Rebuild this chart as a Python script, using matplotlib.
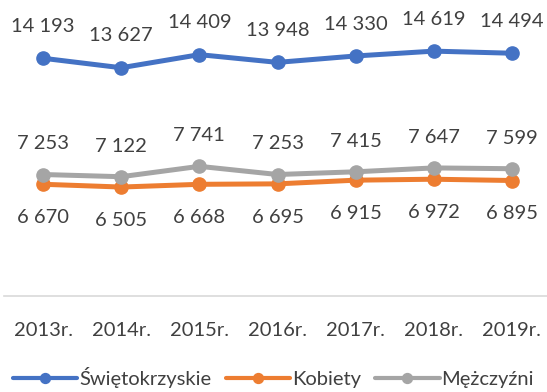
import matplotlib
matplotlib.use("Agg")
import matplotlib.pyplot as plt

years = ["2013r.", "2014r.", "2015r.", "2016r.", "2017r.", "2018r.", "2019r."]
swietokrzyskie = [14193, 13627, 14409, 13948, 14330, 14619, 14494]
kobiety = [6670, 6505, 6668, 6695, 6915, 6972, 6895]
mezczyzni = [7253, 7122, 7741, 7253, 7415, 7647, 7599]

plt.rcParams["font.family"] = ["Lato", "DejaVu Sans"]
text_color = "#404040"

fig = plt.figure(figsize=(5.47, 3.92), dpi=100)
ax = fig.add_axes([4 / 547, 1 - 296 / 392, 547 / 547, 268 / 392])

x = list(range(len(years)))
series = [
    ("Świętokrzyskie", swietokrzyskie, "#4472C4", 23),
    ("Kobiety", kobiety, "#ED7D31", -24),
    ("Mężczyźni", mezczyzni, "#A5A5A5", 22),
]

def fmt(v):
    return f"{v:,}".replace(",", " ")

for name, vals, color, off in series:
    ax.plot(x, vals, color=color, lw=3.6, marker="o", ms=9.5, label=name,
            solid_capstyle="round")
    for xi, v in zip(x, vals):
        ax.annotate(fmt(v), (xi, v), xytext=(0, off), textcoords="offset points",
                    ha="center", va="center", fontsize=14.5, color=text_color)

ax.set_xlim(-0.5, 6.5)
ax.set_ylim(0, 16000)
ax.set_yticks([])
ax.set_xticks(x)
ax.set_xticklabels(years, fontsize=14.5, color=text_color)
ax.tick_params(axis="x", length=0, pad=19)
for s in ["top", "right", "left"]:
    ax.spines[s].set_visible(False)
ax.spines["bottom"].set_color("#D9D9D9")
ax.spines["bottom"].set_linewidth(1.2)

leg = fig.legend(loc="center", bbox_to_anchor=(0.5, 1 - 378 / 392), ncol=3, frameon=False,
                 fontsize=14.5, labelcolor=text_color, handlelength=3.2, handletextpad=0.1,
                 columnspacing=0.7, markerscale=0.75)
for h in leg.legend_handles:
    h.set_linewidth(3.0)

fig.savefig("out.png", dpi=100)
